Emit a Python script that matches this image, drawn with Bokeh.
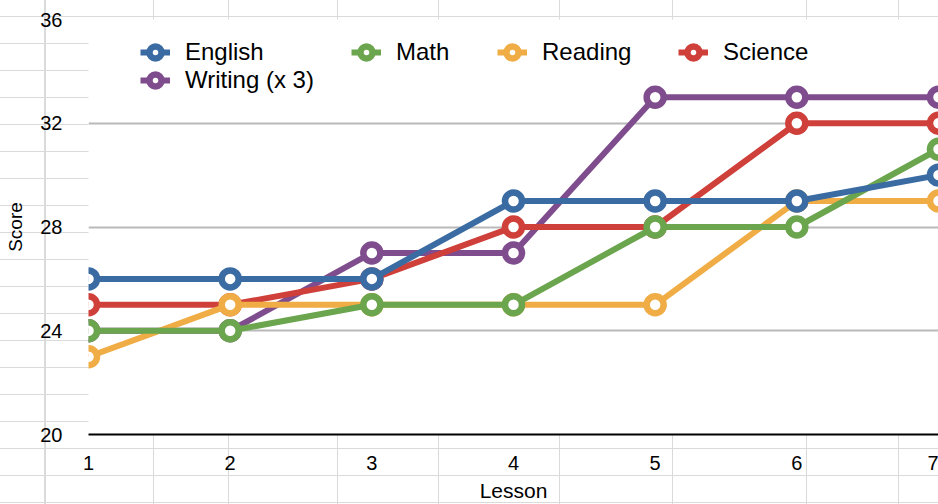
from bokeh.plotting import figure
from bokeh.models import Range1d, Legend, LegendItem, FixedTicker, InlineStyleSheet
from bokeh.embed import file_html
from bokeh.resources import INLINE

# ---- data ----
lessons = [1, 2, 3, 4, 5, 6, 7]
english = [26, 26, 26, 29, 29, 29, 30]
math = [24, 24, 25, 25, 28, 28, 31]
reading = [23, 25, 25, 25, 25, 29, 29]
science = [25, 25, 26, 28, 28, 32, 32]
writing = [24, 24, 27, 27, 33, 33, 33]
series_names = ["English", "Math", "Reading", "Science", "Writing (x 3)"]
y_ticks = [20, 24, 28, 32, 36]
grid_ticks = [24, 28, 32, 36]
x_ticks = lessons

series_values = [english, math, reading, science, writing]
colors = ["#3A6BA2", "#6BA54E", "#F0AC45", "#CF403B", "#7F4D8D"]

FONT = "Liberation Sans"

# spreadsheet-like background drawn behind the chart (page pixel coords)
vlines = [44, 153, 228, 337, 438, 559, 672, 806, 898]
grads = []
for x in vlines:
    w = 2 if x == 44 else 1
    grads.append(
        f"linear-gradient(to right, transparent {x}px, #dadada {x}px, #dadada {x + w}px, transparent {x + w}px)"
    )
grads.append(
    "repeating-linear-gradient(to bottom, transparent 0px, transparent 16px, #dadada 16px, #dadada 17px, transparent 17px, transparent 27px)"
)
css = ":host { background-color: white; background-image: " + ", ".join(grads) + "; }"

p = figure(
    width=938, height=504,
    output_backend="svg", toolbar_location=None,
    x_range=Range1d(1, 7), y_range=Range1d(20, 36),
    min_border_left=88, min_border_right=0, min_border_top=19, min_border_bottom=69,
)
p.stylesheets = [InlineStyleSheet(css=css)]
p.border_fill_color = None
p.background_fill_color = "white"
p.outline_line_color = None

# grids
p.xgrid.visible = False
p.ygrid.ticker = FixedTicker(ticks=grid_ticks)
p.ygrid.grid_line_color = "#b9b9b9"
p.ygrid.grid_line_width = 2

# y axis
p.yaxis.ticker = FixedTicker(ticks=y_ticks)
p.yaxis.axis_line_color = None
p.yaxis.major_tick_line_color = None
p.yaxis.minor_tick_line_color = None
p.yaxis.major_label_standoff = 20
p.yaxis.major_label_text_font = FONT
p.yaxis.major_label_text_font_size = "20px"
p.yaxis.major_label_text_color = "black"
p.yaxis.axis_label = "Score"
p.yaxis.axis_label_text_font = FONT
p.yaxis.axis_label_text_font_size = "19px"
p.yaxis.axis_label_text_font_style = "normal"
p.yaxis.axis_label_text_color = "black"
p.yaxis.axis_label_standoff = 11

# x axis
p.xaxis.ticker = FixedTicker(ticks=x_ticks)
p.xaxis.axis_line_color = "black"
p.xaxis.axis_line_width = 2
p.xaxis.major_tick_line_color = None
p.xaxis.minor_tick_line_color = None
p.xaxis.major_label_standoff = 15
p.xaxis.major_label_text_font = FONT
p.xaxis.major_label_text_font_size = "20px"
p.xaxis.major_label_text_color = "black"
p.xaxis.axis_label = "Lesson"
p.xaxis.axis_label_text_font = FONT
p.xaxis.axis_label_text_font_size = "21px"
p.xaxis.axis_label_text_font_style = "normal"
p.xaxis.axis_label_text_color = "black"
p.xaxis.axis_label_standoff = 6

# series: draw bottom-most first (Writing) so English ends on top
renderers = {}
for name, vals, col in reversed(list(zip(series_names, series_values, colors))):
    lr = p.line(lessons, vals, line_color=col, line_width=6)
    sr = p.scatter(lessons, vals, size=17, fill_color="white", line_color=col, line_width=6.5)
    renderers[name] = [lr, sr]

# one legend per entry, positioned like the reference
legend_pos = {
    "English": (52, 367),
    "Math": (263, 367),
    "Reading": (409, 367),
    "Science": (590, 367),
    "Writing (x 3)": (52, 339),
}
for name in series_names:
    lg = Legend(
        items=[LegendItem(label=name, renderers=renderers[name])],
        location=legend_pos[name],
        orientation="horizontal",
        margin=0, padding=0, spacing=0,
        glyph_width=30, glyph_height=30,
        label_height=30, label_standoff=15,
        label_text_font=FONT, label_text_font_size="24px",
        label_text_color="black",
        border_line_color=None, background_fill_alpha=0,
    )
    p.add_layout(lg)

open("out.html", "w").write(file_html(p, INLINE))
